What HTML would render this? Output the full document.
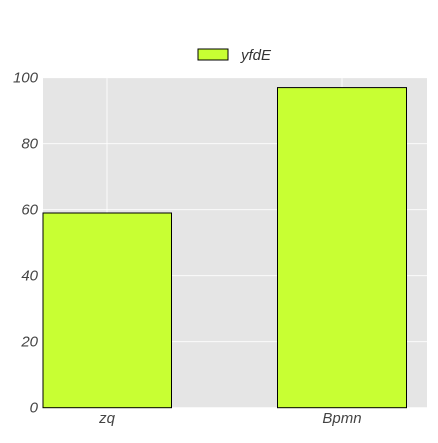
<!DOCTYPE html>
<html><head><meta charset="utf-8"><style>
body{margin:0;background:#fff;}
text{font-family:"Liberation Sans",sans-serif;font-style:italic;}
</style></head><body>
<svg id="chart" width="438" height="438">
<rect x="43" y="77.7" width="384" height="330" fill="#e5e5e5"/>
<g id="grid"></g>
<g id="bars"></g>
<g id="ticks"></g>
<g>
<rect x="198" y="49" width="30" height="11" fill="#c8ff33" stroke="#000" stroke-width="1"/>
<text x="241" y="60" font-size="15" fill="#333">yfdE</text>
</g>
</svg>
<script>
const categories=["zq","Bpmn"];
const values=[59,97];
const yTicks=[0,20,40,60,80,100];
const ns="http://www.w3.org/2000/svg";
const x0=43,x1=427,yTop=77.7,yBot=407.7;
const y=v=>yBot-(v/100)*(yBot-yTop);
const step=235;
const cx=i=>107+step*i;
const bw=129;
function mk(tag,attrs,parent){const e=document.createElementNS(ns,tag);for(const k in attrs)e.setAttribute(k,attrs[k]);parent.appendChild(e);return e;}
const grid=document.getElementById('grid'),bars=document.getElementById('bars'),ticks=document.getElementById('ticks');
yTicks.forEach(t=>{
 const l=mk('line',{x1:x0,x2:x1,y1:y(t),y2:y(t),stroke:'#fff','stroke-width':0.8},grid);
 
 
 const tx=mk('text',{x:38,y:y(t)+5,'text-anchor':'end','font-size':15,fill:'#444'},ticks);
 tx.textContent=t;
 
 
});
categories.forEach((c,i)=>{
 const l=mk('line',{x1:cx(i),x2:cx(i),y1:yTop,y2:yBot,stroke:'#fff','stroke-width':0.8},grid);
 
 
 const left=Math.max(x0,cx(i)-bw/2);
 const right=Math.min(x1,cx(i)+bw/2);
 const r=mk('rect',{x:left,y:y(values[i]),width:right-left,height:yBot-y(values[i]),fill:'#c8ff33',stroke:'#000','stroke-width':1},bars);
 
 
 const tx=mk('text',{x:cx(i),y:423,'text-anchor':'middle','font-size':15,fill:'#444'},ticks);
 tx.textContent=c;
 
 
});
</script>
</body></html>
